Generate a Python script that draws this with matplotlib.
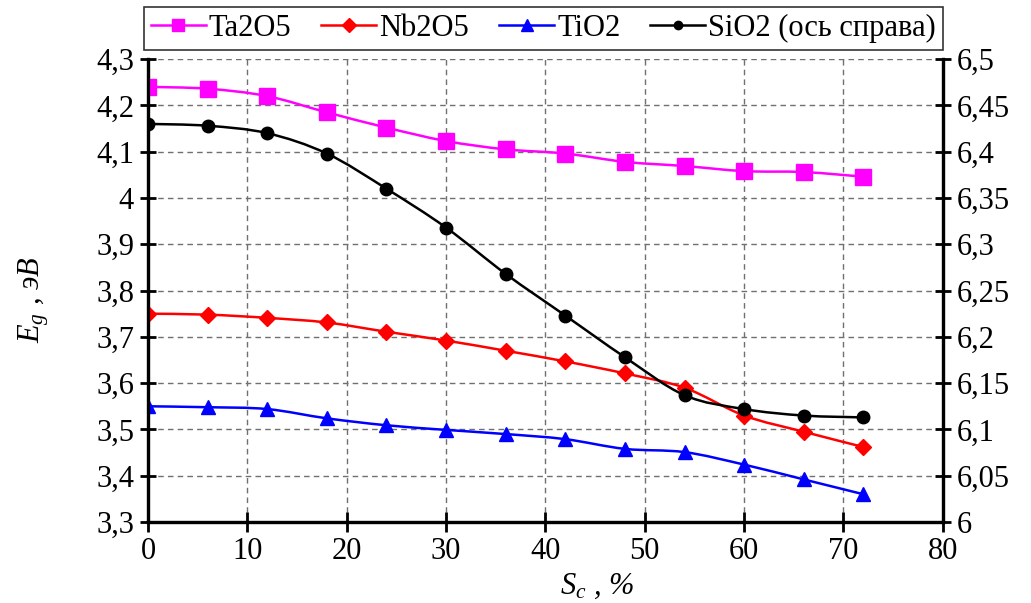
import numpy as np
import matplotlib
matplotlib.use("Agg")
import matplotlib.pyplot as plt
from matplotlib.path import Path
from matplotlib.patches import PathPatch
from matplotlib.lines import Line2D
from matplotlib.ticker import FuncFormatter, MultipleLocator

plt.rcParams["font.family"] = ["Liberation Serif", "DejaVu Serif"]
plt.rcParams["mathtext.fontset"] = "custom"
plt.rcParams["mathtext.rm"] = "Liberation Serif"
plt.rcParams["mathtext.it"] = "Liberation Serif:italic"

S_C = [0, 6, 12, 18, 24, 30, 36, 42, 48, 54, 60, 66, 72]
TA2O5 = [4.240, 4.236, 4.220, 4.185, 4.152, 4.123, 4.105, 4.096, 4.078, 4.069, 4.058, 4.056, 4.046]
NB2O5 = [3.750, 3.748, 3.741, 3.731, 3.711, 3.692, 3.670, 3.647, 3.621, 3.590, 3.530, 3.495, 3.462]
TIO2 = [3.550, 3.548, 3.544, 3.524, 3.509, 3.499, 3.490, 3.479, 3.458, 3.451, 3.424, 3.392, 3.360]
SIO2 = [6.430, 6.428, 6.420, 6.398, 6.360, 6.318, 6.268, 6.223, 6.178, 6.137, 6.122, 6.115, 6.113]

LABELS = ["Ta2O5", "Nb2O5", "TiO2", "SiO2 (ось справа)"]
COLORS = ["#ff00ff", "#ff0000", "#0000ff", "black"]
MARKERS = ["s", "D", "^", "o"]

FS = 22


def comma(v, pos=None):
    return ("%g" % round(v, 3)).replace(".", ",")


def smooth_path(x, y):
    # cubic bezier through the points, like Excel "smoothed line"
    p = np.column_stack([x, y]).astype(float)
    verts = [p[0]]
    codes = [Path.MOVETO]
    n = len(p)
    for i in range(n - 1):
        p0 = p[i - 1] if i > 0 else p[i]
        p3 = p[i + 2] if i + 2 < n else p[i + 1]
        c1 = p[i] + (p[i + 1] - p0) / 6
        c2 = p[i + 1] - (p3 - p[i]) / 6
        verts += [c1, c2, p[i + 1]]
        codes += [Path.CURVE4] * 3
    return Path(verts, codes)


def draw_series(ax, x, y, color, marker, ms):
    ax.add_patch(PathPatch(smooth_path(x, y), facecolor="none",
                           edgecolor=color, lw=1.8, zorder=3))
    ax.plot(x, y, ls="none", marker=marker, ms=ms, color=color, zorder=4)


fig = plt.figure(figsize=(10.31, 6.03), dpi=100)
ax = fig.add_axes([0.1435, 0.1343, 0.771, 0.7677])
ax2 = ax.twinx()

draw_series(ax, S_C, TA2O5, COLORS[0], MARKERS[0], 11)
draw_series(ax, S_C, NB2O5, COLORS[1], MARKERS[1], 8)
draw_series(ax, S_C, TIO2, COLORS[2], MARKERS[2], 10)
draw_series(ax2, S_C, SIO2, COLORS[3], MARKERS[3], 9)

ax.set_xlim(0, 80)
ax.set_ylim(3.3, 4.3)
ax2.set_ylim(6.0, 6.5)
ax.xaxis.set_major_locator(MultipleLocator(10))
ax.yaxis.set_major_locator(MultipleLocator(0.1))
ax2.yaxis.set_major_locator(MultipleLocator(0.05))
ax.yaxis.set_major_formatter(FuncFormatter(comma))
ax2.yaxis.set_major_formatter(FuncFormatter(comma))

ax.grid(True, ls=(0, (4, 3)), color="#707070", lw=1)
ax.set_axisbelow(True)

for a in (ax, ax2):
    a.spines["top"].set_visible(False)
    for s in ("left", "right", "bottom"):
        a.spines[s].set_linewidth(2.3)
ax.tick_params(axis="y", direction="inout", length=12, width=2, labelsize=FS, pad=4)
ax.tick_params(axis="x", direction="inout", length=14, width=2, labelsize=FS, pad=4)
ax2.tick_params(axis="y", direction="inout", length=12, width=2, labelsize=FS, pad=4)

ax.set_xlabel(r"$S_c$ , %", fontsize=FS, style="italic")
ax.xaxis.set_label_coords(0.565, -0.108)
ax.set_ylabel(r"$E_g$ , эВ", fontsize=FS, style="italic")
ax.yaxis.set_label_coords(-0.122, 0.48)

handles = [Line2D([], [], color=c, lw=1.8, marker=m, ms=s)
           for c, m, s in zip(COLORS, MARKERS, [8, 7, 8, 6])]
leg = ax.legend(handles, LABELS, loc="lower left", bbox_to_anchor=(-0.005, 1.02, 1.005, 0.1),
                mode="expand", ncol=4, fontsize=FS, frameon=True, fancybox=False,
                edgecolor="black", handlelength=1.8, handletextpad=0.1,
                columnspacing=0.6, borderpad=0.22, borderaxespad=0.0)
leg.get_frame().set_linewidth(1.2)

fig.savefig("out.png", dpi=100)
